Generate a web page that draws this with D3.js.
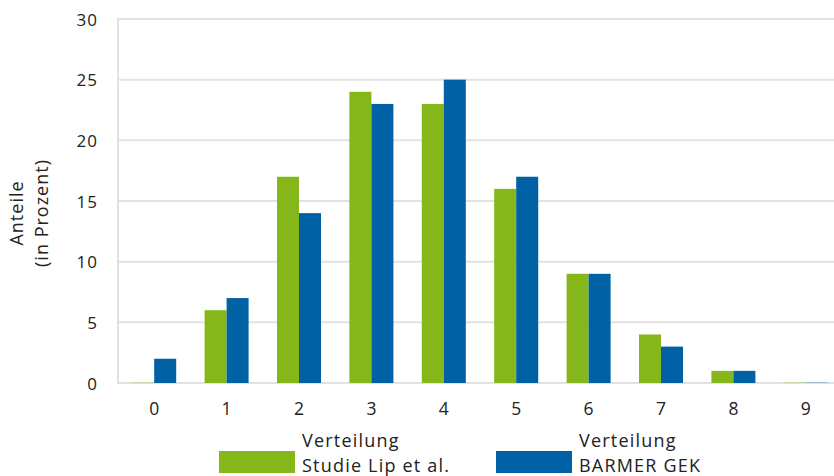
<!DOCTYPE html>
<html>
<head>
<meta charset="utf-8">
<script src="https://cdn.jsdelivr.net/npm/d3@7"></script>
<style>
  html, body { margin: 0; padding: 0; background: #fff; }
  svg { display: block; font-family: "Open Sans", sans-serif; }
</style>
</head>
<body>
<svg id="chart" width="834" height="476"></svg>
<script>
// Number of categories on the x axis
const categories = ["0", "1", "2", "3", "4", "5", "6", "7", "8", "9"];
// Share in percent per category
const studieLip = [0, 6, 17, 24, 23, 16, 9, 4, 1, 0];
const barmerGek = [2, 7, 14, 23, 25, 17, 9, 3, 1, 0];
const yTicks = [0, 5, 10, 15, 20, 25, 30];

const series = [
  { name: ["Verteilung", "Studie Lip et al."], values: studieLip, color: "#85b71b" },
  { name: ["Verteilung", "BARMER GEK"], values: barmerGek, color: "#0062a5" }
];

const svg = d3.select("#chart");
const plotLeft = 118, plotRight = 842, plotTop = 19, plotBottom = 383;

const x = d3.scaleBand().domain(categories).range([plotLeft, plotRight]);
const y = d3.scaleLinear().domain([0, 30]).range([plotBottom, plotTop]);
const barW = 22;
const textColor = "#222";

// Horizontal grid lines
svg.append("g").selectAll("line").data(yTicks).join("line")
  .attr("x1", plotLeft).attr("x2", 834)
  .attr("y1", d => y(d)).attr("y2", d => y(d))
  .attr("stroke", "#e2e2e2").attr("stroke-width", 2);

// Left axis line
svg.append("line")
  .attr("x1", plotLeft).attr("x2", plotLeft)
  .attr("y1", plotTop - 1).attr("y2", plotBottom + 1)
  .attr("stroke", "#e2e2e2").attr("stroke-width", 2);

// Y axis tick labels
const yAxis = d3.axisLeft(y).tickValues(yTicks).tickSize(0).tickPadding(0);
const gy = svg.append("g").attr("transform", `translate(${plotLeft - 20},0)`).call(yAxis);
gy.select(".domain").remove();
gy.selectAll("text").attr("font-size", 17).attr("fill", textColor)
  .attr("letter-spacing", 1).attr("font-family", "Open Sans, sans-serif").attr("dy", "0.36em");

// X axis tick labels
const xAxis = d3.axisBottom(x).tickSize(0).tickPadding(0);
const gx = svg.append("g").attr("transform", `translate(0,${plotBottom + 20})`).call(xAxis);
gx.select(".domain").remove();
gx.selectAll("text").attr("font-size", 17.5).attr("fill", textColor)
  .attr("font-family", "Open Sans, sans-serif").attr("dy", "0.71em");

// Bars, green left of the category centre, blue right of it
series.forEach((s, i) => {
  svg.append("g").selectAll("rect").data(s.values).join("rect")
    .attr("x", (d, j) => x(categories[j]) + x.bandwidth() / 2 - barW + i * barW)
    .attr("width", barW)
    .attr("y", d => d > 0 ? y(d) : plotBottom - 1)
    .attr("height", d => d > 0 ? plotBottom - y(d) : 1)
    .attr("fill", s.color)
    .attr("opacity", d => d > 0 ? 1 : 0.3);
});

// Y axis title
const yt = svg.append("text")
  .attr("transform", `translate(30,${(plotTop + plotBottom) / 2 + 12}) rotate(-90)`)
  .attr("text-anchor", "middle").attr("font-size", 18).attr("letter-spacing", 1)
  .attr("fill", textColor);
yt.append("tspan").attr("x", 0).attr("y", -7).text("Anteile");
yt.append("tspan").attr("x", 0).attr("y", 18).text("(in Prozent)");

// Legend
const legendX = [219, 496];
series.forEach((s, i) => {
  const g = svg.append("g").attr("transform", `translate(${legendX[i]},0)`);
  g.append("rect").attr("x", 0).attr("y", 451).attr("width", 76).attr("height", 22)
    .attr("fill", s.color);
  const t = g.append("text").attr("font-size", 18)
    .attr("fill", textColor).attr("letter-spacing", 1.2);
  t.append("tspan").attr("x", 83).attr("y", 447).text(s.name[0]);
  t.append("tspan").attr("x", 83).attr("y", 472).text(s.name[1]);
});
</script>
</body>
</html>
